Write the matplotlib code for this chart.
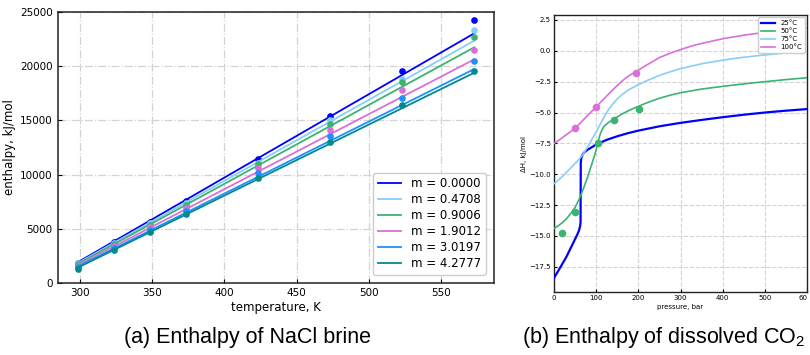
import numpy as np
import matplotlib
matplotlib.use("Agg")
import matplotlib.pyplot as plt

plt.rcParams["mathtext.fontset"] = "custom"
plt.rcParams["mathtext.rm"] = "Liberation Sans"

# ---------------- (a) NaCl brine enthalpy ----------------
temperatures = [298.15, 323.15, 348.15, 373.15, 423.15, 473.15, 523.15, 573.15]
molalities = ["0.0000", "0.4708", "0.9006", "1.9012", "3.0197", "4.2777"]
brine_colors = ["blue", "lightskyblue", "mediumseagreen", "orchid", "dodgerblue", "darkcyan"]

h_m0000 = [1888, 3774, 5660, 7549, 11387, 15356, 19561, 24227]
h_m0471 = [1800, 3650, 5500, 7350, 11100, 15000, 18850, 23300]
h_m0901 = [1730, 3560, 5380, 7200, 10950, 14700, 18550, 22700]
h_m1901 = [1600, 3380, 5150, 6950, 10570, 14120, 17800, 21470]
h_m3020 = [1480, 3200, 4900, 6650, 10170, 13580, 17060, 20480]
h_m4278 = [1330, 3000, 4680, 6330, 9680, 13020, 16420, 19560]
brine_points = [h_m0000, h_m0471, h_m0901, h_m1901, h_m3020, h_m4278]

# model lines (straight) evaluated at the end temperatures
line_T = [298.15, 573.15]
line_m0000 = [1900, 23010]
line_m0471 = [1820, 22330]
line_m0901 = [1740, 21720]
line_m1901 = [1620, 20610]
line_m3020 = [1500, 19720]
line_m4278 = [1400, 19380]
brine_lines = [line_m0000, line_m0471, line_m0901, line_m1901, line_m3020, line_m4278]

# ---------------- (b) dissolved CO2 enthalpy ----------------
co2_labels = ["25°C", "50°C", "75°C", "100°C"]
co2_colors = ["blue", "mediumseagreen", "lightskyblue", "orchid"]

p25 = [0, 10, 20, 30, 40, 50, 55, 60, 62.5, 63.5, 64, 65, 67, 70, 75, 80, 90, 100, 110, 125, 150, 175,
       200, 250, 300, 350, 400, 450, 500, 550, 600]
dh25 = [-18.45, -17.88, -17.3, -16.7, -16.0, -15.3, -14.95, -14.55, -14.2, -13.9, -9.1, -8.75, -8.5, -8.32,
        -8.15, -8.02, -7.82, -7.6, -7.45, -7.22, -6.93, -6.68, -6.47, -6.12, -5.84, -5.6, -5.38, -5.18,
        -5.0, -4.85, -4.72]

p50 = [0, 10, 20, 30, 40, 50, 60, 70, 80, 90, 100, 105, 110, 115, 120, 130, 142, 160, 180, 200, 225, 250,
       275, 300, 350, 400, 450, 500, 550, 600]
dh50 = [-14.42, -14.2, -13.94, -13.62, -13.2, -12.72, -12.05, -11.2, -10.25, -9.2, -8.1, -7.35, -6.75,
        -6.35, -6.08, -5.8, -5.55, -5.15, -4.8, -4.5, -4.15, -3.85, -3.6, -3.4, -3.1, -2.88, -2.68, -2.5,
        -2.33, -2.18]

p75 = [0, 10, 20, 30, 40, 50, 60, 70, 80, 90, 100, 110, 120, 130, 140, 150, 160, 175, 200, 225, 250, 275,
       300, 350, 400, 450, 500, 550, 600]
dh75 = [-10.8, -10.5, -10.2, -9.85, -9.5, -9.15, -8.8, -8.35, -7.8, -7.2, -6.6, -5.95, -5.3, -4.75, -4.3,
        -3.9, -3.6, -3.2, -2.75, -2.35, -2.0, -1.7, -1.45, -1.05, -0.75, -0.52, -0.33, -0.17, -0.03]

p100 = [0, 10, 20, 30, 40, 50, 60, 70, 80, 90, 100, 110, 120, 130, 140, 150, 160, 170, 180, 195, 210, 225,
        250, 275, 300, 325, 350, 400, 450, 500, 550, 600]
dh100 = [-7.53, -7.3, -7.05, -6.8, -6.55, -6.26, -5.95, -5.6, -5.25, -4.9, -4.56, -4.2, -3.85, -3.5, -3.15,
         -2.82, -2.5, -2.22, -1.98, -1.68, -1.35, -1.05, -0.55, -0.2, 0.1, 0.38, 0.6, 0.98, 1.27, 1.5,
         1.68, 1.83]

co2_curves = [(p25, dh25), (p50, dh50), (p75, dh75), (p100, dh100)]

exp50_p = [20, 51, 104, 142, 202]
exp50_dh = [-14.8, -13.1, -7.47, -5.59, -4.7]
exp100_p = [50, 101, 195]
exp100_dh = [-6.26, -4.56, -1.76]

# ---------------- figure ----------------
fig = plt.figure(figsize=(8.1, 3.55), dpi=100)

ax1 = fig.add_axes([0.0712, 0.2028, 0.5387, 0.764])
for lab, col, pts, ln in zip(molalities, brine_colors, brine_points, brine_lines):
    ax1.plot(line_T, ln, color=col, lw=1.3, label=f"m = {lab}", zorder=3)
    ax1.plot(temperatures, pts, "o", color=col, ms=3.8, zorder=3)
ax1.set_ylim(0, 25000)
ax1.set_xlim(284.4, 586.9)
ax1.set_xticks([300, 350, 400, 450, 500, 550])
ax1.set_yticks([0, 5000, 10000, 15000, 20000, 25000])
ax1.grid(True, ls="-.", color="#d3d3d3", lw=0.9)
ax1.set_axisbelow(True)
ax1.tick_params(labelsize=7.5, direction="in", length=3)
ax1.set_xlabel("temperature, K", fontsize=8.5, labelpad=2)
ax1.set_ylabel("enthalpy, kJ/mol", fontsize=8.5, labelpad=3)
for s in ax1.spines.values():
    s.set_linewidth(1.1)
    s.set_color("#222222")
ax1.legend(loc="lower right", fontsize=8.5, frameon=True, fancybox=True, framealpha=1.0,
           edgecolor="#cccccc", borderaxespad=0.7, labelspacing=0.25)

ax2 = fig.add_axes([0.6836, 0.1775, 0.3131, 0.7794])
for (p, dh), lab, col in zip(co2_curves, co2_labels, co2_colors):
    ax2.plot(p, dh, color=col, lw=1.6 if lab == "25°C" else 1.2, label=lab, zorder=3)
ax2.plot(exp50_p, exp50_dh, "o", color="mediumseagreen", ms=4.5, zorder=4)
ax2.plot(exp100_p, exp100_dh, "o", color="orchid", ms=4.5, zorder=4)
ax2.set_xlim(0, 600)
ax2.set_ylim(-19.55, 2.88)
ax2.set_xticks([0, 100, 200, 300, 400, 500, 600])
ax2.set_xticklabels(["0", "100", "200", "300", "400", "500", "60"])
ax2.get_xticklabels()[-1].set_horizontalalignment("right")
ax2.set_yticks([2.5, 0.0, -2.5, -5.0, -7.5, -10.0, -12.5, -15.0, -17.5])
ax2.grid(True, ls="--", color="#d3d3d3", lw=0.8)
ax2.set_axisbelow(True)
ax2.tick_params(labelsize=5, direction="in", length=2, pad=2)
ax2.set_xlabel("pressure, bar", fontsize=5, labelpad=2)
ax2.set_ylabel("ΔH, kJ/mol", fontsize=5, labelpad=2)
for s in ax2.spines.values():
    s.set_linewidth(1.0)
    s.set_color("#222222")
ax2.legend(loc="upper right", fontsize=5, frameon=True, framealpha=1.0, edgecolor="#cccccc",
           borderaxespad=0.3, labelspacing=0.3)

fig.text(0.306, 0.048, "(a) Enthalpy of NaCl brine", fontsize=15.5, family="Liberation Sans",
         ha="center", va="center")
fig.text(0.82, 0.048, r"(b) Enthalpy of dissolved CO$_\mathrm{2}$", fontsize=15.5,
         family="Liberation Sans", ha="center", va="center")

fig.savefig("out.png", dpi=100)
